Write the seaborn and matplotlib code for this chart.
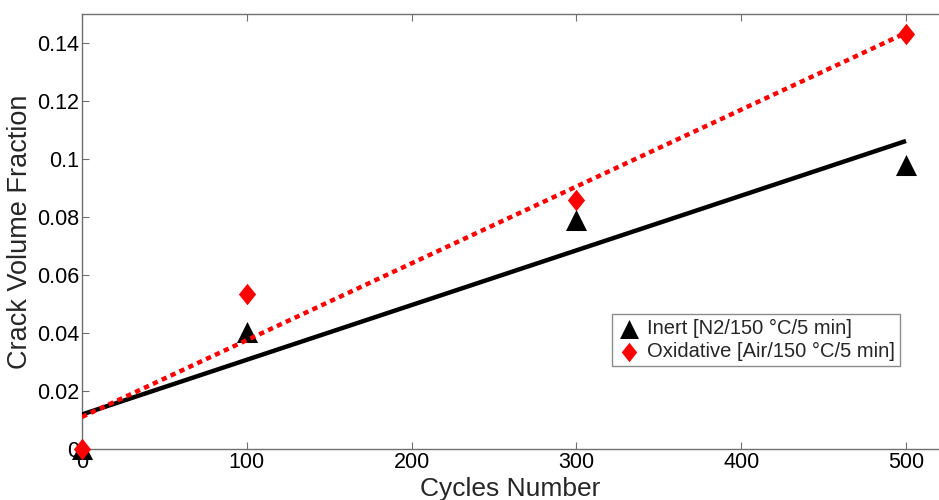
import matplotlib
matplotlib.use("Agg")
import matplotlib.pyplot as plt
import seaborn as sns
import pandas as pd

cycles = [0, 100, 300, 500]
inert = [0.0, 0.0404, 0.0790, 0.0980]
oxidative = [0.0, 0.0536, 0.0860, 0.1430]
inert_label = "Inert [N2/150 °C/5 min]"
oxid_label = "Oxidative [Air/150 °C/5 min]"
xticks = [0, 100, 200, 300, 400, 500]
yticks = [0, 0.02, 0.04, 0.06, 0.08, 0.1, 0.12, 0.14]
ytick_labels = ["0", "0.02", "0.04", "0.06", "0.08", "0.1", "0.12", "0.14"]

df = pd.DataFrame({"cycles": cycles, "inert": inert, "oxidative": oxidative})

sns.set_style("white")
plt.rcParams["font.family"] = ["Liberation Sans", "DejaVu Sans"]

fig = plt.figure(figsize=(9.39, 5.0), dpi=100)
ax = fig.add_axes([82 / 939, 1 - 449 / 500, 1 - 82 / 939, (449 - 14) / 500])

sns.regplot(data=df, x="cycles", y="inert", ax=ax, ci=None, marker="^",
            color="black",
            scatter_kws={"s": 230, "clip_on": False, "linewidths": 0, "alpha": 1, "zorder": 3},
            line_kws={"lw": 3.2, "solid_capstyle": "butt", "zorder": 4})
diamond = [(0, 1), (0.8, 0), (0, -1), (-0.8, 0)]
sns.regplot(data=df, x="cycles", y="oxidative", ax=ax, ci=None, marker=diamond,
            color="red",
            scatter_kws={"s": 240, "clip_on": False, "linewidths": 0, "alpha": 1, "zorder": 3},
            line_kws={"lw": 3.2, "ls": (0, (1.2, 1.0)), "zorder": 5})

ax.set_xlim(0, 520)
ax.set_ylim(0, 0.15)
ax.set_xticks(xticks)
ax.set_yticks(yticks)
ax.set_yticklabels(ytick_labels)
ax.tick_params(axis="both", direction="in", length=5, width=0.8, colors="#707070",
               labelcolor="black", labelsize=15.5, pad=2, top=True, bottom=True, left=True)
for side in ["left", "bottom", "top"]:
    ax.spines[side].set_color("#707070")
    ax.spines[side].set_linewidth(1.0)
ax.spines["right"].set_visible(False)

ax.set_xlabel("Cycles Number", fontsize=19, labelpad=3)
ax.set_ylabel("Crack Volume Fraction", fontsize=19.5, labelpad=3)

handles = ax.collections[:2]
leg = ax.legend(handles, [inert_label, oxid_label], loc="upper left",
                bbox_to_anchor=((612 - 82) / 857, 1 - (314 - 14) / 435),
                fontsize=14.5, frameon=True, fancybox=False, borderpad=0.25,
                handletextpad=0.3, labelspacing=0.2, handlelength=1.2,
                borderaxespad=0, markerscale=0.9)
leg.get_frame().set_edgecolor("#707070")
leg.get_frame().set_linewidth(1.0)

fig.savefig("out.png", dpi=100)
